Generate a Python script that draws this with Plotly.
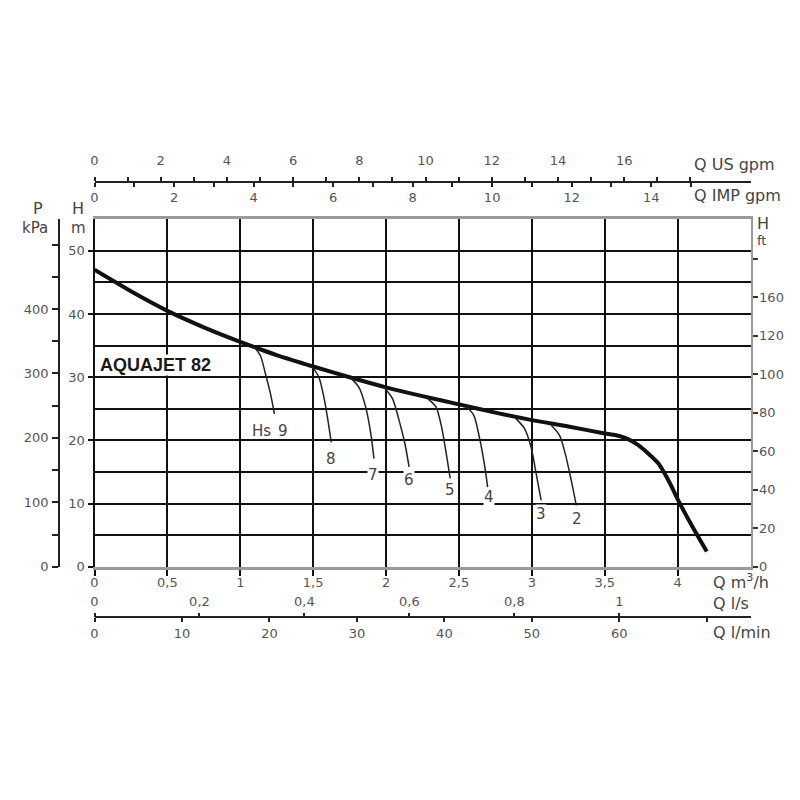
import plotly.graph_objects as go

# ---------------- data ----------------
# main pump curve: Q (m3/h) vs H (m)
q_main = [0, 0.25, 0.5, 0.75, 1.0, 1.25, 1.5, 1.75, 2.0, 2.25, 2.5, 2.75, 3.0, 3.25,
          3.5, 3.6, 3.66, 3.72, 3.8, 3.87, 3.95, 4.0, 4.1, 4.2]
h_main = [47.0, 43.6, 40.5, 37.9, 35.6, 33.5, 31.7, 30.0, 28.4, 27.0, 25.7, 24.4, 23.2, 22.2,
          21.1, 20.7, 20.2, 19.4, 17.9, 16.3, 13.1, 10.7, 6.4, 2.4]

# suction-lift (Hs) branch curves
hs_names = ["9", "8", "7", "6", "5", "4", "3", "2"]
hs_q = [
    [1.092, 1.138, 1.173, 1.207, 1.234],
    [1.496, 1.539, 1.574, 1.601, 1.624],
    [1.757, 1.814, 1.860, 1.895, 1.917],
    [1.986, 2.044, 2.089, 2.129, 2.158],
    [2.285, 2.342, 2.381, 2.413, 2.440],
    [2.548, 2.601, 2.640, 2.674, 2.697],
    [2.892, 2.949, 2.995, 3.030, 3.064],
    [3.133, 3.190, 3.229, 3.270, 3.305],
]
hs_h = [
    [34.85, 33.4, 30.5, 27.4, 24.2],
    [31.6, 30.0, 26.8, 23.2, 19.7],
    [29.9, 28.4, 25.3, 21.1, 17.1],
    [28.4, 26.6, 23.2, 19.5, 15.8],
    [26.6, 25.3, 22.1, 17.9, 14.0],
    [25.4, 24.0, 20.5, 16.3, 12.6],
    [23.4, 21.9, 18.9, 14.7, 10.5],
    [22.4, 20.8, 17.9, 13.7, 9.7],
]
# label positions (Q, H)
hs_label_q = [1.293, 1.622, 1.911, 2.155, 2.442, 2.705, 3.065, 3.307]
hs_label_h = [21.5, 17.1, 14.5, 13.7, 12.1, 11.05, 8.4, 7.6]
hs_prefix = "Hs"
hs_prefix_q, hs_prefix_h = 1.145, 21.5

model_name = "AQUAJET 82"
model_q, model_h = 0.416, 32.0

# axis ticks
q_m3h_vals = [0, 0.5, 1, 1.5, 2, 2.5, 3, 3.5, 4]
q_m3h_text = ["0", "0,5", "1", "1,5", "2", "2,5", "3", "3,5", "4"]
q_us_vals = list(range(0, 19))
q_us_text = [str(v) if v % 2 == 0 and v <= 16 else "" for v in q_us_vals]
q_imp_vals = list(range(0, 16))
q_imp_text = [str(v) if v % 2 == 0 else "" for v in q_imp_vals]
q_ls_vals = [0, 0.2, 0.4, 0.6, 0.8, 1.0]
q_ls_text = ["0", "0,2", "0,4", "0,6", "0,8", "1"]
q_lmin_vals = [0, 10, 20, 30, 40, 50, 60, 70]
q_lmin_text = ["0", "10", "20", "30", "40", "50", "60", ""]
h_m_vals = [0, 10, 20, 30, 40, 50]
h_m_grid = [5, 15, 25, 35, 45]
p_kpa_vals = [0, 50, 100, 150, 200, 250, 300, 350, 400, 450, 500]
p_kpa_text = ["0", "", "100", "", "200", "", "300", "", "400", "", ""]
h_ft_vals = [0, 20, 40, 60, 80, 100, 120, 140, 160]
h_ft_text = ["0", "20", "40", "60", "80", "100", "120", "160", ""]

# unit conversions (per m3/h and per m)
US_GPM = 4.40287
IMP_GPM = 3.66615
L_S = 1 / 3.6
L_MIN = 1000 / 60
FT = 3.28084
KPA = 9.80665
Q_MAX = 4.5
H_MAX = 55

# ---------------- layout geometry (pixels in 800x800 page) ----------------
W = H = 800
OFF = 8  # page body margin offset
px_left, px_right = 94.5, 750.5
px_top, px_bottom = 219.3, 566.7
px_top_axis = 182
px_bot_axis = 617.3
px_p_axis = 59

def fx(px):
    return (px - OFF) / W

def fy(py):
    return 1 - (py - OFF) / H

tick_font = dict(family="DejaVu Sans", size=13, color="#555")

fig = go.Figure()

fig.add_trace(go.Scatter(x=q_main, y=h_main, mode="lines",
                         line=dict(color="#111", width=4, shape="spline", smoothing=0.6),
                         showlegend=False, hoverinfo="skip"))
for qs, hs in zip(hs_q, hs_h):
    fig.add_trace(go.Scatter(x=qs, y=hs, mode="lines",
                             line=dict(color="#222", width=1.5, shape="spline", smoothing=0.8),
                             showlegend=False, hoverinfo="skip"))

# dummy traces to attach secondary axes
for xa, ya in [("x2", "y"), ("x3", "y"), ("x4", "y"), ("x5", "y"), ("x", "y2"), ("x", "y3")]:
    fig.add_trace(go.Scatter(x=[None], y=[None], xaxis=xa, yaxis=ya, mode="lines",
                             showlegend=False, hoverinfo="skip"))

xdom = [fx(px_left), fx(px_right)]
ydom = [fy(px_bottom), fy(px_top)]

common = dict(automargin=False, zeroline=False, fixedrange=True, tickfont=tick_font)

fig.update_layout(
    template="none",
    width=W, height=H, margin=dict(l=0, r=0, t=0, b=0, pad=0, autoexpand=False),
    paper_bgcolor="white", plot_bgcolor="white",
    showlegend=False,
    xaxis=dict(domain=xdom, anchor="y", range=[0, Q_MAX],
               tickmode="array", tickvals=q_m3h_vals, ticktext=q_m3h_text,
               ticks="outside", ticklen=6, tickwidth=1.5, tickcolor="#111",
               ticklabelstandoff=-4,
               showgrid=True, gridcolor="#111", gridwidth=2,
               showline=True, linecolor="#9a9a9a", linewidth=3, mirror=True, **common),
    yaxis=dict(domain=ydom, anchor="x", range=[0, H_MAX],
               tickmode="array", tickvals=h_m_vals,
               ticks="outside", ticklen=5, tickwidth=1.5, tickcolor="#111",
               showgrid=True, gridcolor="#111", gridwidth=2,
               minor=dict(tickmode="array", tickvals=h_m_grid, showgrid=True,
                          gridcolor="#111", gridwidth=2, ticks=""),
               showline=True, linecolor="#111", linewidth=2, **common),
    yaxis2=dict(overlaying="y", anchor="x", side="right", range=[0, H_MAX * FT],
                tickmode="array", tickvals=h_ft_vals, ticktext=h_ft_text,
                ticks="outside", ticklen=5, tickwidth=1.5, tickcolor="#333",
                ticklabelstandoff=-1,
                showgrid=False, showline=True, linecolor="#9a9a9a", linewidth=2, **common),
    yaxis3=dict(overlaying="y", anchor="free", position=fx(px_p_axis), side="left",
                range=[0, H_MAX * KPA],
                tickmode="array", tickvals=p_kpa_vals, ticktext=p_kpa_text,
                ticks="outside", ticklen=6, tickwidth=1.5, tickcolor="#222",
                ticklabelstandoff=1,
                showgrid=False, showline=True, linecolor="#222", linewidth=1.5, **common),
    xaxis2=dict(overlaying="x", anchor="free", position=fy(px_top_axis), side="top",
                range=[0, Q_MAX * US_GPM],
                tickmode="array", tickvals=q_us_vals, ticktext=q_us_text,
                ticks="outside", ticklen=4, tickwidth=1.5, tickcolor="#222",
                ticklabelstandoff=7,
                showgrid=False, showline=True, linecolor="#222", linewidth=1.5, **common),
    xaxis3=dict(overlaying="x", anchor="free", position=fy(px_top_axis), side="bottom",
                range=[0, Q_MAX * IMP_GPM],
                tickmode="array", tickvals=q_imp_vals, ticktext=q_imp_text,
                ticks="outside", ticklen=4, tickwidth=1.5, tickcolor="#222",
                ticklabelstandoff=-1,
                showgrid=False, showline=False, **common),
    xaxis4=dict(overlaying="x", anchor="free", position=fy(px_bot_axis), side="top",
                range=[0, Q_MAX * L_S],
                tickmode="array", tickvals=q_ls_vals, ticktext=q_ls_text,
                ticks="outside", ticklen=4, tickwidth=1.5, tickcolor="#222",
                ticklabelstandoff=1,
                showgrid=False, showline=True, linecolor="#222", linewidth=1.5, **common),
    xaxis5=dict(overlaying="x", anchor="free", position=fy(px_bot_axis), side="bottom",
                range=[0, Q_MAX * L_MIN],
                tickmode="array", tickvals=q_lmin_vals, ticktext=q_lmin_text,
                ticks="outside", ticklen=4, tickwidth=1.5, tickcolor="#222",
                ticklabelstandoff=0,
                showgrid=False, showline=False, **common),
)

ann = []
# axis titles (paper coordinates)
def ptxt(text, x, y, xanchor="left", size=16):
    ann.append(dict(text=text, x=fx(x), y=fy(y), xref="paper", yref="paper",
                    xanchor=xanchor, yanchor="middle", showarrow=False,
                    font=dict(family="DejaVu Sans", size=size, color="#444")))

ptxt("Q US gpm", 692, 164)
ptxt("Q IMP gpm", 692, 195)
ptxt("Q m<sup>3</sup>/h", 711, 581)
ptxt("Q l/s", 711, 603)
ptxt("Q l/min", 711, 632)
ptxt("P", 38, 209, "center", 16)
ptxt("kPa", 35, 228, "center", 15)
ptxt("H", 78, 209, "center", 16)
ptxt("m", 78, 228, "center", 15)
ptxt("H", 755, 223, "left", 16)
ptxt("ft", 755, 240, "left", 13)

# model name
ann.append(dict(text=model_name, x=model_q, y=model_h, xref="x", yref="y",
                showarrow=False, xanchor="center", yanchor="middle",
                bgcolor="white", borderpad=0,
                font=dict(family="Liberation Sans Narrow, Arial Narrow, Liberation Sans",
                          size=18, color="#1a1a1a", weight="bold")))
# curve labels
label_font = dict(family="DejaVu Sans", size=15, color="#444")
ann.append(dict(text=hs_prefix, x=hs_prefix_q, y=hs_prefix_h, xref="x", yref="y",
                showarrow=False, font=label_font))
for name, lq, lh in zip(hs_names, hs_label_q, hs_label_h):
    bg = "rgba(0,0,0,0)" if name == "9" else "white"
    ann.append(dict(text=name, x=lq, y=lh, xref="x", yref="y",
                    showarrow=False, bgcolor=bg, borderpad=0, font=label_font))

fig.update_layout(annotations=ann)

fig.write_html("out.html")
